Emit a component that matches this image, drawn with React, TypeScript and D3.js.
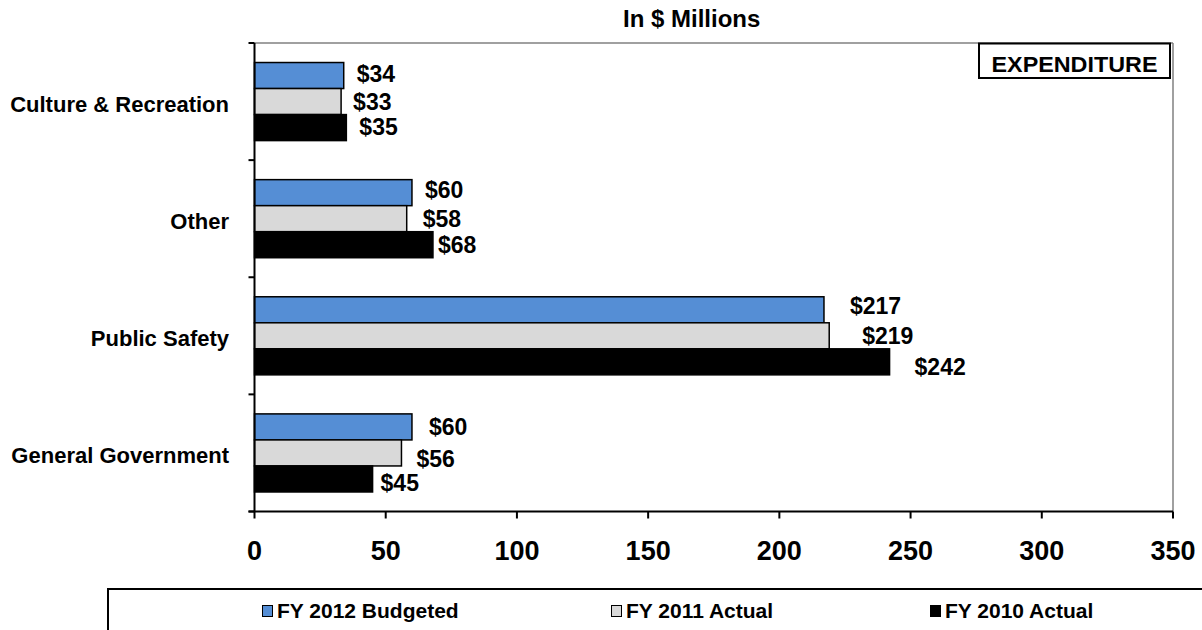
import React from "react";
import * as d3 from "d3";

const categories = ["Culture & Recreation", "Other", "Public Safety", "General Government"];
const seriesNames = ["FY 2012 Budgeted", "FY 2011 Actual", "FY 2010 Actual"];
const fy2012Budgeted = [34, 60, 217, 60];
const fy2011Actual = [33, 58, 219, 56];
const fy2010Actual = [35, 68, 242, 45];
const xTicks = [0, 50, 100, 150, 200, 250, 300, 350];
const seriesColors = ["#558ED5", "#D9D9D9", "#000000"];

// layout nudges for the manually placed data labels (px), [category][series]
const labelNudgeX = [[13, 12, 13], [13, 16, 5], [26, 33, 25], [17, 15, 8]];
const labelNudgeY = [[-2, 0, -1], [-2.5, 0, 0], [-3.5, 0, 5], [0, 5.5, 3.5]];

const W = 1202, H = 630;
const plot = { left: 254.5, right: 1173, top: 43, bottom: 511.5 };
const FONT = "'Liberation Sans', Arial, Helvetica, sans-serif";

export default function App() {
  const series = [fy2012Budgeted, fy2011Actual, fy2010Actual];
  const x = d3.scaleLinear().domain([0, 350]).range([plot.left, plot.right]);
  const y = d3.scaleBand<string>().domain(categories).range([plot.top, plot.bottom])
    .paddingInner(1 / 3).paddingOuter(1 / 6);
  const yInner = d3.scaleBand<number>().domain([0, 1, 2]).range([0, y.bandwidth()]);
  const step = y.step();
  const boundaries = d3.range(categories.length + 1).map((i) => plot.top + i * step);

  const legendText = [277, 626, 945];

  return (
    <svg width={W} height={H} style={{ position: "absolute", left: 0, top: 0, background: "#fff" }}
      fontFamily={FONT} fontWeight="bold">
      <rect x={0} y={0} width={W} height={H} fill="#fff" />
      {/* title */}
      <text x={623} y={27} fontSize={24} fill="#000">In $ Millions</text>
      {/* plot border (gray top/right) */}
      <line x1={plot.left} x2={plot.right} y1={plot.top} y2={plot.top} stroke="#808080" strokeWidth={1.5} />
      <line x1={plot.right} x2={plot.right} y1={plot.top} y2={plot.bottom} stroke="#808080" strokeWidth={1.5} />
      {/* bars */}
      {categories.map((c, ci) => (
        <g key={c}>
          {series.map((s, si) => (
            <rect key={si} x={x(0)} y={(y(c) as number) + (yInner(si) as number)}
              width={x(s[ci]) - x(0)} height={yInner.bandwidth()}
              fill={seriesColors[si]} stroke="#000" strokeWidth={1.5} />
          ))}
          {series.map((s, si) => (
            <text key={"l" + si} x={x(s[ci]) + labelNudgeX[ci][si]}
              y={(y(c) as number) + (yInner(si) as number) + yInner.bandwidth() / 2 + labelNudgeY[ci][si] + 8.2}
              fontSize={23} fill="#000">{"$" + s[ci]}</text>
          ))}
          <text x={229} y={(y(c) as number) + y.bandwidth() / 2 + 10} textAnchor="end" fontSize={22} fill="#000">{c}</text>
        </g>
      ))}
      {/* left axis */}
      <line x1={plot.left} x2={plot.left} y1={plot.top} y2={plot.bottom} stroke="#000" strokeWidth={2} />
      {boundaries.map((b, i) => (
        <line key={i} x1={plot.left - 6} x2={plot.left} y1={b} y2={b} stroke="#000" strokeWidth={2} />
      ))}
      {/* bottom axis */}
      <line x1={plot.left - 6} x2={plot.right} y1={plot.bottom} y2={plot.bottom} stroke="#000" strokeWidth={2} />
      {xTicks.map((t) => (
        <g key={t}>
          <line x1={x(t)} x2={x(t)} y1={plot.bottom} y2={plot.bottom + 7} stroke="#000" strokeWidth={2} />
          <text x={x(t)} y={560} textAnchor="middle" fontSize={27} fill="#000">{t}</text>
        </g>
      ))}
      {/* EXPENDITURE box */}
      <rect x={979} y={43.5} width={191} height={34.5} fill="#fff" stroke="#000" strokeWidth={2} />
      <text x={1074.5} y={72} textAnchor="middle" fontSize={22} textLength={166} lengthAdjust="spacingAndGlyphs" fill="#000">EXPENDITURE</text>
      {/* legend */}
      <rect x={108} y={589} width={1120} height={60} fill="#fff" stroke="#000" strokeWidth={2} />
      {seriesNames.map((n, i) => (
        <g key={n}>
          <rect x={legendText[i] - 14.5} y={605.5} width={10} height={11} fill={seriesColors[i]} stroke="#000" strokeWidth={1} />
          <text x={legendText[i]} y={618} fontSize={21} fill="#000">{n}</text>
        </g>
      ))}
    </svg>
  );
}
